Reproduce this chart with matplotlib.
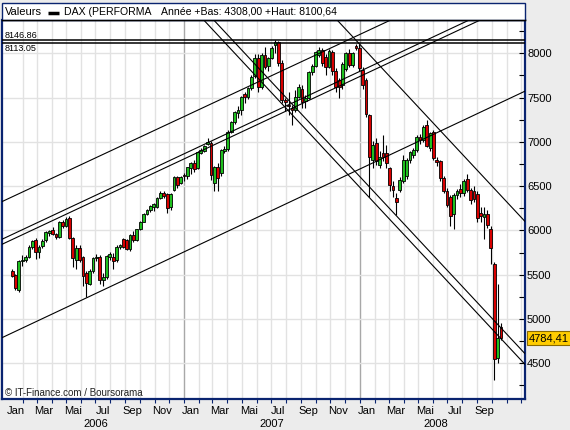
import matplotlib
matplotlib.use("Agg")
import matplotlib.pyplot as plt
import matplotlib.dates as mdates
import matplotlib.transforms as mtransforms
from matplotlib.patches import Rectangle
from matplotlib.lines import Line2D
import numpy as np
import pandas as pd

plt.rcParams['font.family'] = ['Liberation Sans', 'DejaVu Sans']

# ---------------- data (weekly candles, DAX, week starting 2006-01-09) ----------------
first_week = "2006-01-09"
opens = [5545, 5497, 5330, 5650, 5665, 5705, 5810, 5890, 5755, 5825,
         5890, 5975, 6005, 5960, 5925, 6100, 6050, 6135, 5920, 5670,
         5800, 5700, 5520, 5400, 5540, 5690, 5700, 5440, 5470, 5700,
         5705, 5665, 5815, 5900, 5890, 5790, 5950, 5890, 6013, 6099,
         6186, 6231, 6260, 6270, 6370, 6420, 6412, 6261, 6457, 6600,
         6532, 6622, 6615, 6710, 6758, 6701, 6878, 6901, 6976, 6991,
         6532, 6720, 6645, 6901, 6916, 7115, 7228, 7330, 7360, 7540,
         7503, 7610, 7740, 7950, 7620, 7980, 7860, 7945, 8090, 8125,
         7890, 7470, 7420, 7380, 7360, 7510, 7600, 7460, 7500, 7790,
         7860, 7980, 8035, 7960, 7850, 8020, 7800, 7700, 7640, 7820,
         8000, 7870, 8080, 8060, 7810, 7700, 7300, 6790, 6990, 6740,
         6870, 6870, 6700, 6500, 6370, 6457, 6560, 6620, 6800, 6850,
         6905, 7050, 7020, 7190, 6930, 7115, 6800, 6780, 6590, 6440,
         6380, 6190, 6400, 6470, 6420, 6580, 6460, 6440, 6410, 6200,
         6150, 6190, 6020, 5620, 4560, 4910]
highs = [5565, 5510, 5670, 5720, 5720, 5830, 5895, 5910, 5830, 5900,
         5995, 6010, 6040, 5975, 6110, 6115, 6150, 6163, 5930, 5830,
         5840, 5710, 5540, 5570, 5700, 5730, 5720, 5520, 5720, 5760,
         5740, 5830, 5850, 5920, 5900, 5955, 5990, 6020, 6110, 6195,
         6240, 6290, 6310, 6380, 6440, 6450, 6420, 6420, 6610, 6620,
         6620, 6650, 6720, 6770, 6790, 6900, 6930, 6970, 7040, 7010,
         6730, 6760, 6920, 6950, 7130, 7240, 7350, 7400, 7520, 7560,
         7620, 7750, 7990, 7990, 8000, 8070, 7960, 8080, 8152, 8140,
         7920, 7500, 7560, 7420, 7580, 7650, 7640, 7530, 7800, 7880,
         8030, 8070, 8060, 7990, 8050, 8040, 7830, 7720, 7900, 8020,
         8050, 8020, 8100, 8100, 7840, 7720, 7320, 7010, 7040, 6900,
         7080, 6960, 6720, 6560, 6420, 6600, 6850, 6820, 6900, 6930,
         7080, 7090, 7190, 7247, 7110, 7130, 6830, 6800, 6610, 6480,
         6400, 6420, 6470, 6520, 6580, 6640, 6480, 6500, 6450, 6260,
         6260, 6230, 6050, 5640, 5400, 4960]
lows = [5470, 5330, 5300, 5600, 5640, 5690, 5790, 5680, 5690, 5800,
        5875, 5940, 5950, 5900, 5915, 6030, 6040, 5900, 5590, 5560,
        5640, 5370, 5250, 5380, 5520, 5650, 5400, 5370, 5450, 5670,
        5560, 5640, 5790, 5800, 5780, 5770, 5870, 5880, 6000, 6090,
        6170, 6210, 6220, 6250, 6350, 6370, 6200, 6230, 6440, 6480,
        6520, 6560, 6580, 6640, 6660, 6690, 6860, 6880, 6960, 6570,
        6440, 6450, 6620, 6870, 6900, 7100, 7200, 7270, 7300, 7440,
        7480, 7590, 7720, 7560, 7600, 7820, 7800, 7930, 8000, 7860,
        7440, 7350, 7300, 7190, 7340, 7490, 7380, 7380, 7480, 7760,
        7850, 7960, 7860, 7760, 7830, 7760, 7560, 7500, 7600, 7800,
        7840, 7850, 8040, 7800, 7600, 7280, 6380, 6700, 6740, 6700,
        6780, 6700, 6450, 6380, 6170, 6430, 6540, 6580, 6760, 6820,
        6890, 6980, 7000, 6940, 6900, 6800, 6730, 6560, 6420, 6270,
        6050, 6020, 6350, 6380, 6390, 6430, 6300, 6320, 6100, 6100,
        5900, 6030, 5620, 4308, 4500, 4760]
closes = [5490, 5355, 5660, 5665, 5700, 5810, 5885, 5760, 5810, 5885,
          5985, 5990, 5960, 5925, 6100, 6055, 6125, 5920, 5685, 5800,
          5670, 5480, 5410, 5540, 5690, 5705, 5440, 5470, 5710, 5730,
          5655, 5815, 5835, 5810, 5790, 5945, 5890, 6013, 6099, 6186,
          6231, 6276, 6300, 6370, 6427, 6390, 6250, 6412, 6600, 6513,
          6600, 6610, 6713, 6758, 6698, 6890, 6908, 6954, 7002, 6626,
          6720, 6589, 6908, 6916, 7115, 7228, 7341, 7360, 7510, 7503,
          7604, 7736, 7950, 7620, 7980, 7840, 7945, 8060, 8125, 7890,
          7470, 7450, 7400, 7360, 7510, 7620, 7450, 7500, 7790, 7860,
          8020, 8040, 7890, 7850, 8030, 7800, 7620, 7620, 7880, 8000,
          7870, 8000, 8055, 7830, 7640, 7320, 6830, 6965, 6780, 6833,
          6830, 6760, 6510, 6460, 6325, 6570, 6800, 6790, 6880, 6905,
          7050, 7020, 7170, 6950, 7100, 6815, 6770, 6590, 6440, 6290,
          6160, 6400, 6440, 6420, 6560, 6460, 6340, 6360, 6140, 6160,
          6190, 6060, 5800, 4544, 4781, 4784.41]

last_value = 4784.41
last_label = "4784,41"
resistance_levels = [8146.86, 8113.05]
resistance_labels = ["8146.86", "8113.05"]

# trend lines given by two anchor points (date, price)
up_anchor_dates = ["2006-01-09", "2007-12-10"]
trend_a = [6379, 8157]
trend_b1 = [5954, 7740]
trend_b2 = [5897, 7682]
trend_c = [4843, 6637]
down_anchor_dates = ["2007-03-05", "2008-09-15"]
trend_d1 = [8247, 4983]
trend_d2 = [8368, 5104]
down2_anchor_dates = ["2007-12-10", "2008-09-15"]
trend_e = [8229, 6597]

y_ticks = [4500, 5000, 5500, 6000, 6500, 7000, 7500, 8000]
label_months = [1, 3, 5, 7, 9, 11]
label_names = ["Jan", "Mar", "Mai", "Jul", "Sep", "Nov"]
years = [2006, 2007, 2008]
header_name = "DAX (PERFORMA"
header_stats = "Année +Bas: 4308,00 +Haut: 8100,64"
credit = "\u00a9 IT-Finance.com / Boursorama"

# ---------------- figure ----------------
W, H = 570, 430
NAVY = '#0A2470'
fig = plt.figure(figsize=(W / 100, H / 100), dpi=100, facecolor='#ECECEC')
L, R, T, B = 2, 525, 19.5, 399.3
ax = fig.add_axes([L / W, 1 - B / H, (R - L) / W, (B - T) / H])
ax.set_facecolor('white')

dates = pd.date_range(first_week, periods=len(closes), freq='W-MON')
xs = mdates.date2num(dates)
O = np.array(opens, float); Hh = np.array(highs, float)
Lo = np.array(lows, float); C = np.array(closes, float)

xmin = mdates.date2num(pd.Timestamp("2005-12-19"))
xmax = mdates.date2num(pd.Timestamp("2008-12-09"))
ax.set_xlim(xmin, xmax)
ax.set_ylim(4093.5, 8381.6)

# grid
months = pd.date_range("2006-01-01", "2008-12-01", freq='MS')
grid_months = [m for m in months if m > dates[0] and xmin < mdates.date2num(m) < xmax]
for m in grid_months:
    ax.axvline(mdates.date2num(m), color='#A8A8A8' if m.month == 1 else '#E2E2E2',
               lw=1, zorder=0)
for v in y_ticks:
    ax.axhline(v, color='#E2E2E2', lw=1, zorder=0)

# candles
up = C >= O
colors = np.where(up, '#1FC01F', '#D80000')
ax.vlines(xs, Lo, Hh, color='black', lw=0.8, zorder=2)
body_h = np.maximum(np.abs(C - O), 8)
ax.bar(xs, body_h, bottom=np.minimum(O, C), width=5.8, color=colors,
       edgecolor='black', linewidth=0.6, zorder=3)

# trend lines
def tline(ds, ps):
    ax.axline((mdates.date2num(pd.Timestamp(ds[0])), ps[0]),
              (mdates.date2num(pd.Timestamp(ds[1])), ps[1]),
              color='black', lw=0.8, zorder=4)

for tr in (trend_a, trend_b1, trend_b2, trend_c):
    tline(up_anchor_dates, tr)
for tr in (trend_d1, trend_d2):
    tline(down_anchor_dates, tr)
tline(down2_anchor_dates, trend_e)

ty = mtransforms.blended_transform_factory(ax.transAxes, ax.transData)
for k, (lev, lab) in enumerate(zip(resistance_levels, resistance_labels)):
    ax.axhline(lev, color='black', lw=1.1, zorder=4)
    if k == 0:
        ax.text(3 / (R - L), lev + 8, lab, transform=ty, fontsize=6.5,
                va='bottom', ha='left', color='black', zorder=5)
    else:
        ax.text(3 / (R - L), lev - 10, lab, transform=ty, fontsize=6.5,
                va='top', ha='left', color='black', zorder=5)

# spines
for s in ('left', 'bottom', 'right'):
    ax.spines[s].set_color(NAVY)
    ax.spines[s].set_linewidth(1.6)
ax.spines['top'].set_color('black')
ax.spines['top'].set_linewidth(1.0)

# y axis on right
ax.yaxis.tick_right()
ax.set_yticks(y_ticks)
ax.set_yticklabels([str(v) for v in y_ticks])
ax.set_yticks([v for v in range(4250, 8376, 250) if v not in y_ticks], minor=True)
ax.tick_params(axis='y', which='both', direction='in', length=4, color='black',
               labelsize=8, pad=1.5, right=True, left=False, width=0.8)

# x axis ticks (months)
ax.set_xticks([mdates.date2num(m) for m in grid_months])
ax.set_xticklabels([])
ax.tick_params(axis='x', which='both', direction='out', length=3, color=NAVY, width=0.8)

tb = mtransforms.blended_transform_factory(ax.transData, ax.transAxes)
for m in months:
    if m.month in label_months and m <= dates[-1]:
        xm = mdates.date2num(m + pd.Timedelta(days=15))
        ax.text(xm, -0.0308, label_names[label_months.index(m.month)], transform=tb,
                ha='center', va='center', fontsize=8, color='black')
for y in years:
    s = max(pd.Timestamp(f"{y}-01-01"), dates[0] - pd.Timedelta(days=21))
    e = min(pd.Timestamp(f"{y}-12-31"), dates[-1] + pd.Timedelta(days=21))
    xm = (mdates.date2num(s) + mdates.date2num(e)) / 2
    ax.text(xm, -0.065, str(y), transform=tb, ha='center', va='center', fontsize=8)

# last value box
ax.text(1.0 + 4 / (R - L), last_value, last_label, transform=ty, ha='left', va='center',
        fontsize=8, color='black',
        bbox=dict(boxstyle='square,pad=0.18', facecolor='#FFCC00', edgecolor='#8A6A00', lw=0.8))

# credit
ax.text(3 / (R - L), (B - 393) / (B - T), credit, transform=ax.transAxes,
        fontsize=7, ha='left', va='center', color='#202020', zorder=5)

# header
fig.add_artist(Rectangle((L / W, 1 - T / H), (R - L) / W, (T - 3.3) / H,
                         transform=fig.transFigure, facecolor='white',
                         edgecolor=NAVY, lw=1.0))
fig.add_artist(Line2D([L / W, R / W], [1 - T / H] * 2, color='black', lw=1.0,
                      transform=fig.transFigure))
hy = 1 - 12.0 / H
fig.text(5 / W, hy, "Valeurs", fontsize=8, va='center', ha='left')
fig.add_artist(Line2D([48 / W, 59 / W], [1 - 13.3 / H] * 2, color='black', lw=2.5,
                      transform=fig.transFigure, solid_capstyle='butt'))
fig.text(64 / W, hy, header_name, fontsize=7.6, va='center', ha='left')
fig.text(161 / W, hy, header_stats, fontsize=7.6, va='center', ha='left')

fig.savefig("out.png", dpi=100, facecolor=fig.get_facecolor())
